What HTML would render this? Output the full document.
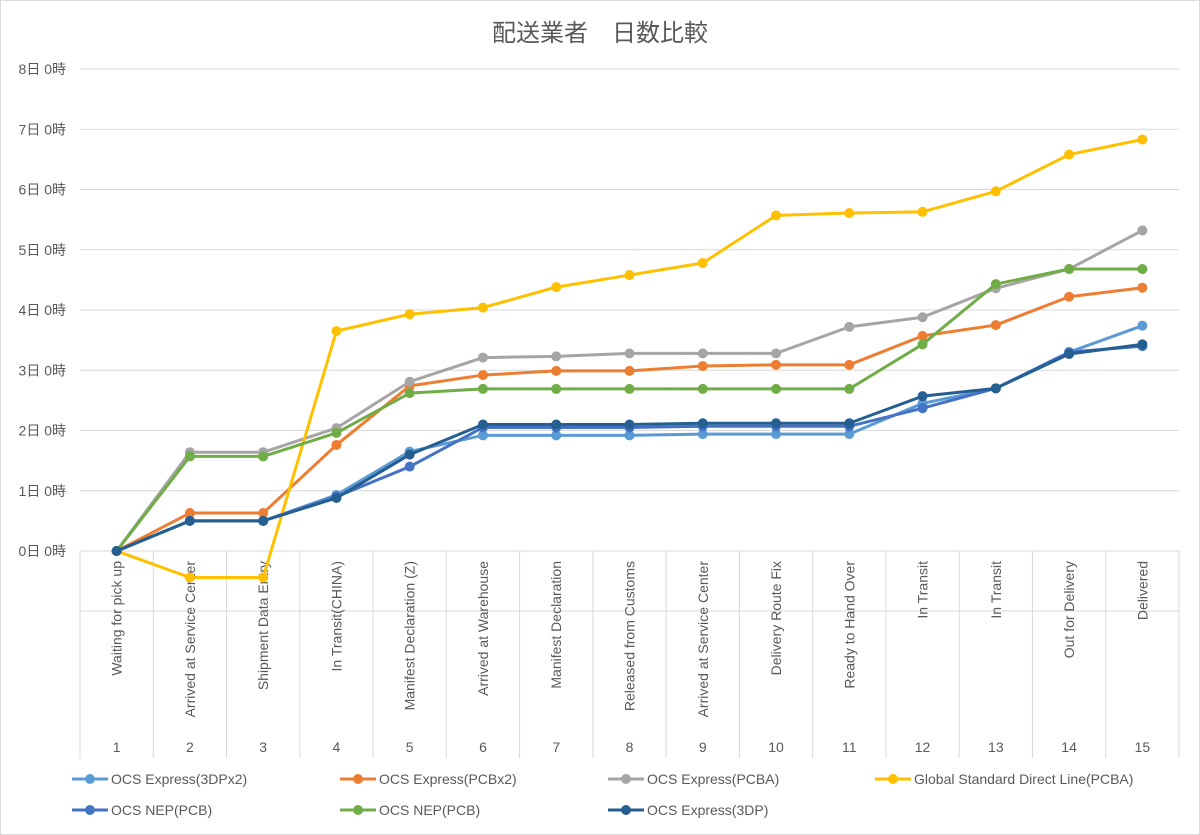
<!DOCTYPE html>
<html><head><meta charset="utf-8"><style>
body{margin:0;background:#fff}
svg{display:block;font-family:"Liberation Sans","Noto Sans CJK JP",sans-serif}
</style></head><body>
<svg id="chart" width="1200" height="835">
<rect x="0.5" y="0.5" width="1199" height="834" fill="#fff" stroke="#d9d9d9"/>
<text x="600" y="41" text-anchor="middle" font-size="24" fill="#595959">配送業者　日数比較</text>
<g id="grid"></g><g id="xaxis"></g><g id="series"></g><g id="legend"></g>
</svg>
<script>
const categories=["Waiting for pick up","Arrived at Service Center","Shipment Data Entry","In Transit(CHINA)","Manifest Declaration (Z)","Arrived at Warehouse","Manifest Declaration","Released from Customs","Arrived at Service Center","Delivery Route Fix","Ready to Hand Over","In Transit","In Transit","Out for Delivery","Delivered"];
const yTicks=[0,1,2,3,4,5,6,7,8];
const seriesNames=["OCS Express(3DPx2)","OCS Express(PCBx2)","OCS Express(PCBA)","Global Standard Direct Line(PCBA)","OCS NEP(PCB)","OCS NEP(PCB)","OCS Express(3DP)"];
const seriesColors=["#5B9BD5","#ED7D31","#A5A5A5","#FFC000","#4472C4","#70AD47","#255E91"];
const s3DPx2=[0,0.5,0.5,0.93,1.65,1.92,1.92,1.92,1.94,1.94,1.94,2.45,2.7,3.3,3.74];
const sPCBx2=[0,0.63,0.63,1.76,2.74,2.92,2.99,2.99,3.07,3.09,3.09,3.57,3.75,4.22,4.37];
const sPCBA=[0,1.64,1.64,2.04,2.81,3.21,3.23,3.28,3.28,3.28,3.72,3.88,4.36,4.68,5.32];
const sGlobal=[0,-0.44,-0.44,3.65,3.93,4.04,4.38,4.58,4.78,5.57,5.61,5.63,5.97,6.58,6.83];
const sNEP1=[0,0.5,0.5,0.9,1.4,2.05,2.05,2.05,2.07,2.07,2.07,2.37,2.7,3.3,3.4];
const sNEP2=[0,1.57,1.57,1.96,2.62,2.69,2.69,2.69,2.69,2.69,2.69,3.43,4.43,4.68,4.68];
const s3DP=[0,0.5,0.5,0.88,1.6,2.1,2.1,2.1,2.12,2.12,2.12,2.57,2.7,3.27,3.43];
const allSeries=[s3DPx2,sPCBx2,sPCBA,sGlobal,sNEP1,sNEP2,s3DP];
const NS="http://www.w3.org/2000/svg";
const X0=80,X1=1179,Y0=551,PX=60.25;
const bw=(X1-X0)/categories.length;
const xs=i=>X0+bw*(i+0.5);
const ys=v=>Y0-v*PX;
function mk(tag,attrs,parent){const e=document.createElementNS(NS,tag);for(const k in attrs)e.setAttribute(k,attrs[k]);parent.appendChild(e);return e;}
const grid=document.getElementById('grid');
yTicks.forEach(t=>{
  const l=mk('line',{x1:X0,x2:X1,y1:ys(t),y2:ys(t),stroke:'#d9d9d9'},grid);
  
  
  const tx=mk('text',{x:66,y:ys(t)+5,'text-anchor':'end','font-size':14,fill:'#595959'},grid);
  tx.textContent=t+'日 0時';
  
  
});
const xa=document.getElementById('xaxis');
const la=mk('line',{x1:X0,x2:X1,y1:611,y2:611,stroke:'#d9d9d9'},xa);


for(let i=0;i<=categories.length;i++){
  const x=X0+bw*i;
  const l=mk('line',{x1:x,x2:x,y1:Y0,y2:758,stroke:'#d9d9d9'},xa);
  
  
}
categories.forEach((c,i)=>{
  const t=mk('text',{x:0,y:0,'text-anchor':'end','font-size':14,fill:'#595959',transform:`translate(${xs(i)+5},561) rotate(-90)`},xa);
  t.textContent=c;
  
  
  const n=mk('text',{x:xs(i),y:752,'text-anchor':'middle','font-size':14,fill:'#595959'},xa);
  n.textContent=String(i+1);
  
  
});
const sg=document.getElementById('series');
allSeries.forEach((d,si)=>{
  const g=mk('g',{},sg);
  
  
  const p=mk('polyline',{points:d.map((v,i)=>xs(i)+','+ys(v)).join(' '),fill:'none',stroke:seriesColors[si],'stroke-width':3,'stroke-linejoin':'round'},g);
  
  
  d.forEach((v,i)=>{
    const c=mk('circle',{cx:xs(i),cy:ys(v),r:5,fill:seriesColors[si]},g);
    
    
  });
});
const lg=document.getElementById('legend');
const lx=[72,340,608,875,72,340,608],ly=[779,779,779,779,810,810,810];
seriesNames.forEach((n,i)=>{
  const g=mk('g',{},lg);
  
  
  mk('line',{x1:lx[i],x2:lx[i]+36,y1:ly[i],y2:ly[i],stroke:seriesColors[i],'stroke-width':3},g);
  mk('circle',{cx:lx[i]+18,cy:ly[i],r:5,fill:seriesColors[i]},g);
  const t=mk('text',{x:lx[i]+39,y:ly[i]+5,'font-size':14,fill:'#595959'},g);
  t.textContent=n;
});
</script>
</body></html>
